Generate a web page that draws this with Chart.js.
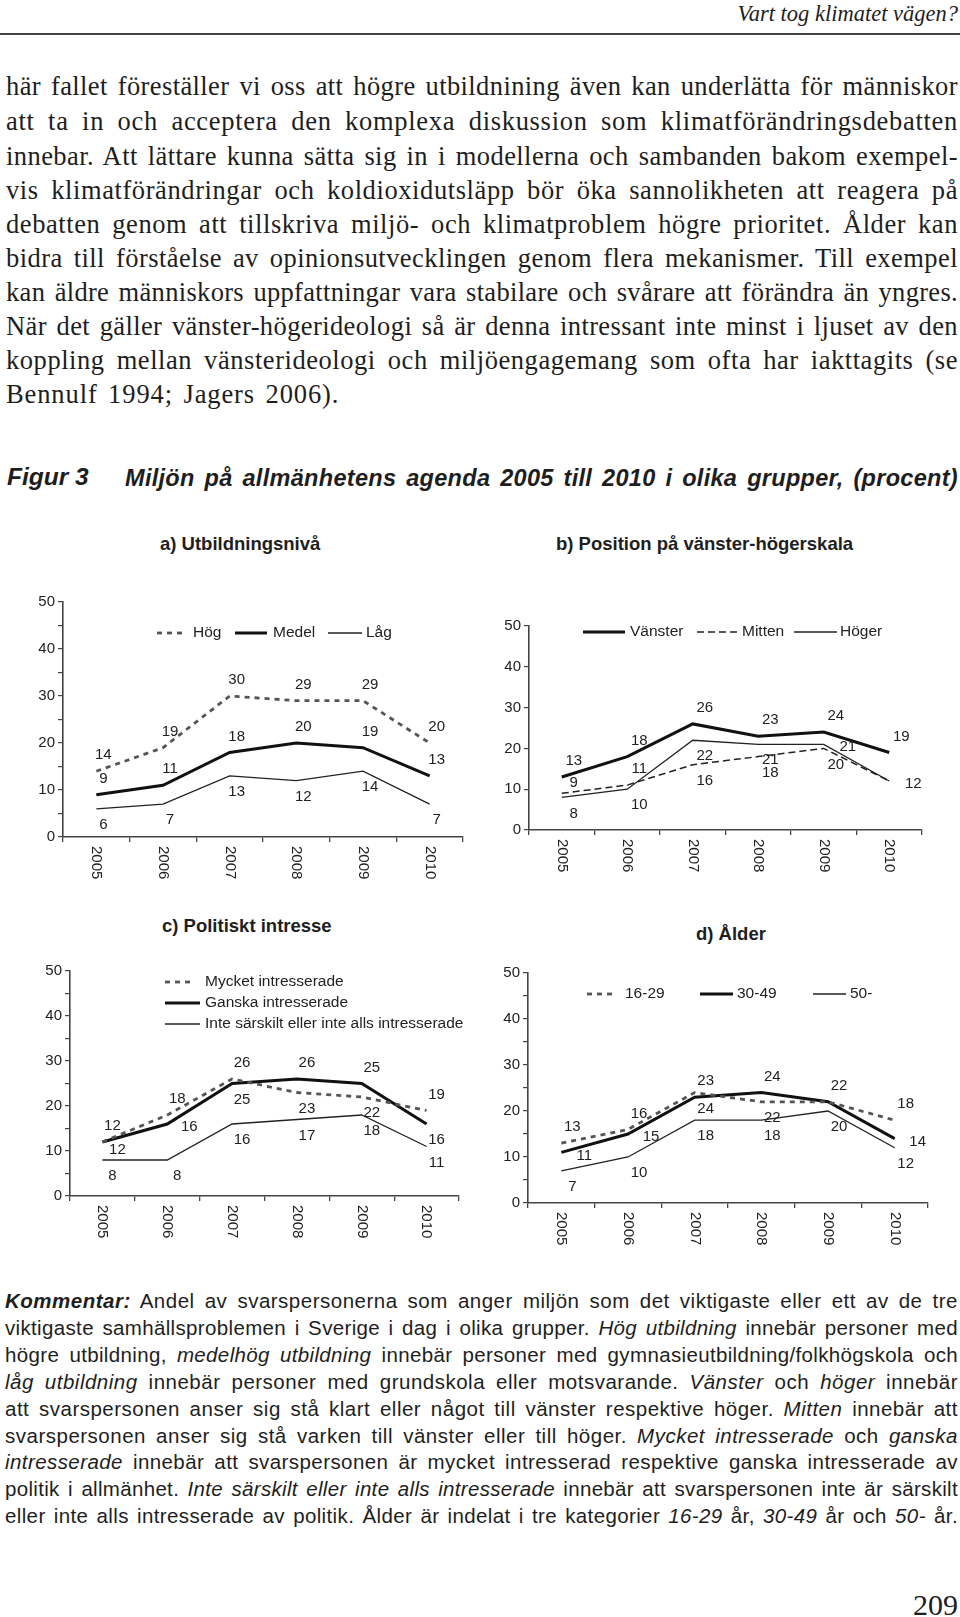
<!DOCTYPE html>
<html>
<head>
<meta charset="utf-8">
<script src="https://cdn.jsdelivr.net/npm/chart.js@4.4.0/dist/chart.umd.min.js"></script>
<style>
body { margin: 0; background: #fff; width: 960px; height: 1617px; position: relative; overflow: hidden; color: #1e1e1e; }
.t { position: absolute; white-space: nowrap; }
.serif { font-family: "Liberation Serif", "Times New Roman", serif; }
.sans { font-family: "Liberation Sans", Arial, sans-serif; }
.bl { font-size: 26.5px; line-height: 30px; left: 6px; }
.cl { font-size: 20.5px; line-height: 24px; left: 5px; }
canvas { position: absolute; }
</style>
</head>
<body>

<div class="t serif" id="head" style="font-size:22.5px;font-style:italic;top:1px;right:2px;line-height:26px;">Vart tog klimatet vägen?</div>
<div style="position:absolute;left:0;top:33px;width:960px;height:2px;background:#444;"></div>

<div class="t serif bl jb" style="top:71px">här fallet föreställer vi oss att högre utbildnining även kan underlätta för människor</div>
<div class="t serif bl jb" style="top:106px">att ta in och acceptera den komplexa diskussion som klimatförändringsdebatten</div>
<div class="t serif bl jb" style="top:141px">innebar. Att lättare kunna sätta sig in i modellerna och sambanden bakom exempel-</div>
<div class="t serif bl jb" style="top:175px">vis klimatförändringar och koldioxidutsläpp bör öka sannolikheten att reagera på</div>
<div class="t serif bl jb" style="top:209px">debatten genom att tillskriva miljö- och klimatproblem högre prioritet. Ålder kan</div>
<div class="t serif bl jb" style="top:243px">bidra till förståelse av opinionsutvecklingen genom flera mekanismer. Till exempel</div>
<div class="t serif bl jb" style="top:277px">kan äldre människors uppfattningar vara stabilare och svårare att förändra än yngres.</div>
<div class="t serif bl jb" style="top:311px">När det gäller vänster-högerideologi så är denna intressant inte minst i ljuset av den</div>
<div class="t serif bl jb" style="top:345px">koppling mellan vänsterideologi och miljöengagemang som ofta har iakttagits (se</div>
<div class="t serif bl" id="last" style="top:379px">Bennulf 1994; Jagers 2006).</div>

<div class="t sans" style="left:7px;top:463px;font-size:24.5px;font-weight:bold;font-style:italic;line-height:28px;">Figur 3</div>
<div class="t sans" id="ftitle" style="left:125px;top:464px;font-size:23.5px;font-weight:bold;font-style:italic;line-height:28px;">Miljön på allmänhetens agenda 2005 till 2010 i olika grupper, (procent)</div>

<div class="t sans" style="left:160px;top:533px;font-size:18.5px;font-weight:bold;line-height:22px;">a) Utbildningsnivå</div>
<div class="t sans" style="left:556px;top:533px;font-size:18.5px;font-weight:bold;line-height:22px;">b) Position på vänster-högerskala</div>
<div class="t sans" style="left:162px;top:915px;font-size:18.5px;font-weight:bold;line-height:22px;">c) Politiskt intresse</div>
<div class="t sans" style="left:696px;top:923px;font-size:18.5px;font-weight:bold;line-height:22px;">d) Ålder</div>

<canvas id="ca" width="480" height="340" style="left:0;top:560px;width:480px;height:340px;"></canvas>
<canvas id="cb" width="470" height="320" style="left:470px;top:580px;width:470px;height:320px;"></canvas>
<canvas id="cc" width="480" height="320" style="left:0;top:940px;width:480px;height:320px;"></canvas>
<canvas id="cd" width="470" height="330" style="left:470px;top:940px;width:470px;height:330px;"></canvas>

<div class="t sans cl jc" style="top:1289px"><b><i>Kommentar:</i></b> Andel av svarspersonerna som anger miljön som det viktigaste eller ett av de tre</div>
<div class="t sans cl jc" style="top:1316px">viktigaste samhällsproblemen i Sverige i dag i olika grupper. <i>Hög utbildning</i> innebär personer med</div>
<div class="t sans cl jc" style="top:1343px">högre utbildning, <i>medelhög utbildning</i> innebär personer med gymnasieutbildning/folkhögskola och</div>
<div class="t sans cl jc" style="top:1370px"><i>låg utbildning</i> innebär personer med grundskola eller motsvarande. <i>Vänster</i> och <i>höger</i> innebär</div>
<div class="t sans cl jc" style="top:1397px">att svarspersonen anser sig stå klart eller något till vänster respektive höger. <i>Mitten</i> innebär att</div>
<div class="t sans cl jc" style="top:1424px">svarspersonen anser sig stå varken till vänster eller till höger. <i>Mycket intresserade</i> och <i>ganska</i></div>
<div class="t sans cl jc" style="top:1450px"><i>intresserade</i> innebär att svarspersonen är mycket intresserad respektive ganska intresserade av</div>
<div class="t sans cl jc" style="top:1477px">politik i allmänhet. <i>Inte särskilt eller inte alls intresserade</i> innebär att svarspersonen inte är särskilt</div>
<div class="t sans cl jc" style="top:1504px">eller inte alls intresserade av politik. Ålder är indelat i tre kategorier <i>16-29</i> år, <i>30-49</i> år och <i>50-</i> år.</div>

<div class="t serif" style="right:2px;top:1587px;font-size:30px;line-height:36px;">209</div>

<script>
// år och y-axelns etiketter
const years = ['2005', '2006', '2007', '2008', '2009', '2010'];
const yTicks = [0, 10, 20, 30, 40, 50];

// a) utbildningsnivå
const hog = [14, 19, 30, 29, 29, 20];
const medel = [9, 11, 18, 20, 19, 13];
const lag = [6, 7, 13, 12, 14, 7];

// b) vänster-höger
const vanster = [13, 18, 26, 23, 24, 19];
const mitten = [9, 11, 16, 18, 20, 12];
const hoger = [8, 10, 22, 21, 21, 12];

// c) politiskt intresse
const mycket = [12, 18, 26, 23, 22, 19];
const ganska = [12, 16, 25, 26, 25, 16];
const inte = [8, 8, 16, 17, 18, 11];

// d) ålder
const ung = [13, 16, 24, 22, 22, 18];
const mellan = [11, 15, 23, 24, 22, 14];
const aldre = [7, 10, 18, 18, 20, 12];

const FONT = '"Liberation Sans", Arial, sans-serif';
const dotted = {borderColor: '#555', borderWidth: 2.8, borderDash: [5, 5]};
const thick = {borderColor: '#111', borderWidth: 3};
const thin = {borderColor: '#222', borderWidth: 1.3};
const dashed = {borderColor: '#222', borderWidth: 1.5, borderDash: [7, 4]};

// sprid ut raden till given bredd, lite mellan tecken och resten mellan ord
function justify(el, width, lsMax) {
    el.style.wordSpacing = '0px';
    el.style.letterSpacing = '0px';
    const w = el.getBoundingClientRect().width;
    const chars = el.textContent.length;
    const n = (el.textContent.match(/ /g) || []).length;
    let ls = (width - w) * 0.5 / chars;
    ls = Math.max(-0.4, Math.min(lsMax, ls));
    el.style.letterSpacing = ls + 'px';
    const w2 = el.getBoundingClientRect().width;
    if (n) el.style.wordSpacing = ((width - w2) / n) + 'px';
    return ls;
}
let lsSum = 0;
const bodyLines = document.querySelectorAll('.jb');
bodyLines.forEach(el => { lsSum += justify(el, 952, 0.7); });
const lastLine = document.getElementById('last');
lastLine.style.letterSpacing = (lsSum / bodyLines.length + 0.4) + 'px';
lastLine.style.wordSpacing = '3px';
document.querySelectorAll('.jc').forEach(el => justify(el, 953, 0.5));
justify(document.getElementById('ftitle'), 833, 0.3);

const deco = {
    id: 'deco',
    afterDatasetsDraw(chart, args, o) {
        const ctx = chart.ctx;
        const xs = chart.scales.x, ys = chart.scales.y;
        ctx.save();
        ctx.fillStyle = '#222';
        ctx.font = '15px ' + FONT;
        ctx.textAlign = 'left';
        ctx.textBaseline = 'middle';
        chart.data.labels.forEach((lab, i) => {
            ctx.save();
            ctx.translate(xs.getPixelForValue(i), ys.bottom + 9);
            ctx.rotate(Math.PI / 2);
            ctx.fillText(lab, 0, 0);
            ctx.restore();
        });

        ctx.textAlign = 'center';
        chart.data.datasets.forEach((ds, di) => {
            const meta = chart.getDatasetMeta(di);
            ds.place.forEach((p, i) => {
                if (!p) return;
                const pt = meta.data[i];
                let dx = o.dx, dy = 3;
                if (p === 'a') dy = -16;
                if (p === 'n') dy = -10;
                if (p === 'b') dy = 16;
                if (p === 'q') { dx += 5; dy = 8; }
                if (p === 'r') dx += 12;
                ctx.fillText(String(ds.data[i]), pt.x + dx, pt.y + dy);
            });
        });

        ctx.textAlign = 'left';
        ctx.font = '15.5px ' + FONT;
        o.legend.forEach((it, di) => {
            const ds = chart.data.datasets[di];
            ctx.save();
            ctx.strokeStyle = ds.borderColor;
            ctx.lineWidth = ds.borderWidth;
            ctx.setLineDash(ds.borderDash || []);
            ctx.beginPath();
            ctx.moveTo(it[0], it[3]);
            ctx.lineTo(it[1], it[3]);
            ctx.stroke();
            ctx.restore();
            ctx.fillText(ds.label, it[2], it[3]);
        });
        ctx.restore();
    }
};

function makeChart(id, sets, box) {
    const datasets = sets.map(s => Object.assign({
        label: s.label,
        data: s.data,
        place: s.place,
        fill: false,
        tension: 0,
        pointRadius: 0,
        borderCapStyle: 'butt'
    }, s.style));

    return new Chart(document.getElementById(id), {
        type: 'line',
        data: {labels: years, datasets: datasets},
        plugins: [deco],
        options: {
            responsive: false,
            animation: false,
            layout: {padding: {top: box.top, right: box.right, left: 0, bottom: 0}},
            plugins: {
                legend: {display: false},
                tooltip: {enabled: false},
                deco: {dx: box.dx, legend: box.legend}
            },
            scales: {
                x: {
                    type: 'category',
                    offset: true,
                    grid: {offset: true, drawOnChartArea: false, tickLength: 5, color: '#444', lineWidth: 1.3},
                    border: {color: '#444', width: 1.6},
                    ticks: {display: false},
                    afterFit: s => { s.height = box.xh; }
                },
                y: {
                    min: 0,
                    max: 50,
                    grid: {drawOnChartArea: false, tickLength: 5, color: '#444', lineWidth: 1.2},
                    border: {color: '#444', width: 1.6},
                    ticks: {
                        stepSize: 5,
                        padding: 3,
                        color: '#222',
                        font: {family: FONT, size: 15},
                        callback: v => yTicks.includes(v) ? String(v) : ''
                    },
                    afterFit: s => { s.width = box.yw; }
                }
            }
        }
    });
}

const A = 'a', B = 'b', R = 'r', N = 'n', Q = 'q';

makeChart('ca', [
    {label: 'Hög', data: hog, style: dotted, place: [A, A, A, A, A, A]},
    {label: 'Medel', data: medel, style: thick, place: [A, A, A, A, A, A]},
    {label: 'Låg', data: lag, style: thin, place: [B, B, B, B, B, B]}
], {top: 42, right: 17, yw: 63, xh: 63, dx: 7,
    legend: [[157, 182, 193, 73], [235, 267, 273, 73], [328, 362, 366, 73]]});

makeChart('cb', [
    {label: 'Vänster', data: vanster, style: thick, place: [A, A, A, A, A, A]},
    {label: 'Mitten', data: mitten, style: dashed, place: [N, A, B, B, B, '']},
    {label: 'Höger', data: hoger, style: thin, place: [B, B, B, B, R, R]}
], {top: 46, right: 18, yw: 59, xh: 70, dx: 12,
    legend: [[113, 155, 160, 52], [227, 269, 272, 52], [324, 367, 370, 52]]});

makeChart('cc', [
    {label: 'Mycket intresserade', data: mycket, style: dotted, place: [A, A, A, B, B, A]},
    {label: 'Ganska intresserade', data: ganska, style: thick, place: [Q, R, B, A, A, B]},
    {label: 'Inte särskilt eller inte alls intresserade', data: inte, style: thin, place: [B, B, B, B, B, B]}
], {top: 31, right: 21, yw: 70, xh: 64, dx: 10,
    legend: [[165, 193, 205, 42], [165, 200, 205, 63], [165, 200, 205, 84]]});

makeChart('cd', [
    {label: '16-29', data: ung, style: dotted, place: [A, A, B, B, A, A]},
    {label: '30-49', data: mellan, style: thick, place: [R, R, A, A, '', R]},
    {label: '50-', data: aldre, style: thin, place: [B, B, B, B, B, B]}
], {top: 33, right: 12, yw: 58, xh: 67, dx: 11,
    legend: [[117, 143, 155, 54], [230, 263, 267, 54], [343, 376, 380, 54]]});
</script>
</body>
</html>
